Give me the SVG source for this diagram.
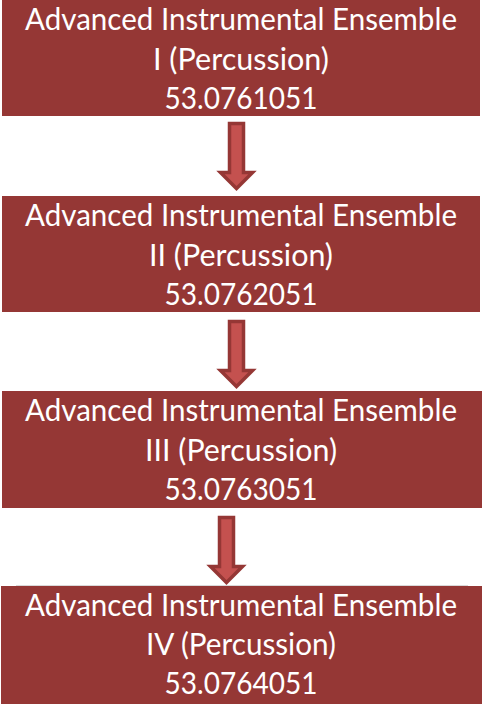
<svg xmlns="http://www.w3.org/2000/svg" xmlns:xlink="http://www.w3.org/1999/xlink" width="482" height="704" viewBox="0 0 482 704">
  <style>
    .box { fill: #953735; }
    .label { fill: #ffffff; font-family: Lato, "Open Sans", "Liberation Sans", sans-serif; font-size: 30px; text-anchor: middle; }
    .arrow { fill: #c4514f; stroke: #953735; stroke-width: 3.5; stroke-linejoin: miter; }
  </style>
  <defs>
    <!-- down arrow: origin at top centre of the shaft -->
    <path id="downArrow" class="arrow" d="M-7,0 H7 V49 H16 L0,65 L-16,49 H-7 Z"/>
  </defs>

  <rect width="482" height="704" fill="#ffffff"/>

  <g id="connectors">
    <use xlink:href="#downArrow" transform="translate(236.5,123.5)"/>
    <use xlink:href="#downArrow" transform="translate(236.5,321.5)"/>
    <use xlink:href="#downArrow" transform="translate(226.5,517.5)"/>
  </g>

  <g id="course1">
    <rect class="box" x="2" y="0" width="478" height="116"/>
    <text class="label" x="241" y="30" textLength="432" lengthAdjust="spacingAndGlyphs">Advanced Instrumental Ensemble</text>
    <text class="label" x="241" y="70" textLength="176" lengthAdjust="spacingAndGlyphs">I (Percussion)</text>
    <text class="label" x="241" y="109" textLength="153" lengthAdjust="spacingAndGlyphs">53.0761051</text>
  </g>

  <g id="course2">
    <rect class="box" x="2" y="196" width="478" height="116"/>
    <text class="label" x="241" y="226" textLength="432" lengthAdjust="spacingAndGlyphs">Advanced Instrumental Ensemble</text>
    <text class="label" x="241" y="266" textLength="184" lengthAdjust="spacingAndGlyphs">II (Percussion)</text>
    <text class="label" x="241" y="305" textLength="153" lengthAdjust="spacingAndGlyphs">53.0762051</text>
  </g>

  <g id="course3">
    <rect class="box" x="2" y="391" width="480" height="117"/>
    <text class="label" x="241" y="421" textLength="432" lengthAdjust="spacingAndGlyphs">Advanced Instrumental Ensemble</text>
    <text class="label" x="241" y="461" textLength="192" lengthAdjust="spacingAndGlyphs">III (Percussion)</text>
    <text class="label" x="241" y="500" textLength="153" lengthAdjust="spacingAndGlyphs">53.0763051</text>
  </g>

  <g id="course4">
    <line x1="16" y1="585.5" x2="468" y2="585.5" stroke="#d9d9d9" stroke-width="1"/>
    <rect class="box" x="1" y="586" width="481" height="118"/>
    <text class="label" x="241" y="616" textLength="432" lengthAdjust="spacingAndGlyphs">Advanced Instrumental Ensemble</text>
    <text class="label" x="241" y="655" textLength="190" lengthAdjust="spacingAndGlyphs">IV (Percussion)</text>
    <text class="label" x="241" y="694" textLength="153" lengthAdjust="spacingAndGlyphs">53.0764051</text>
  </g>
</svg>
